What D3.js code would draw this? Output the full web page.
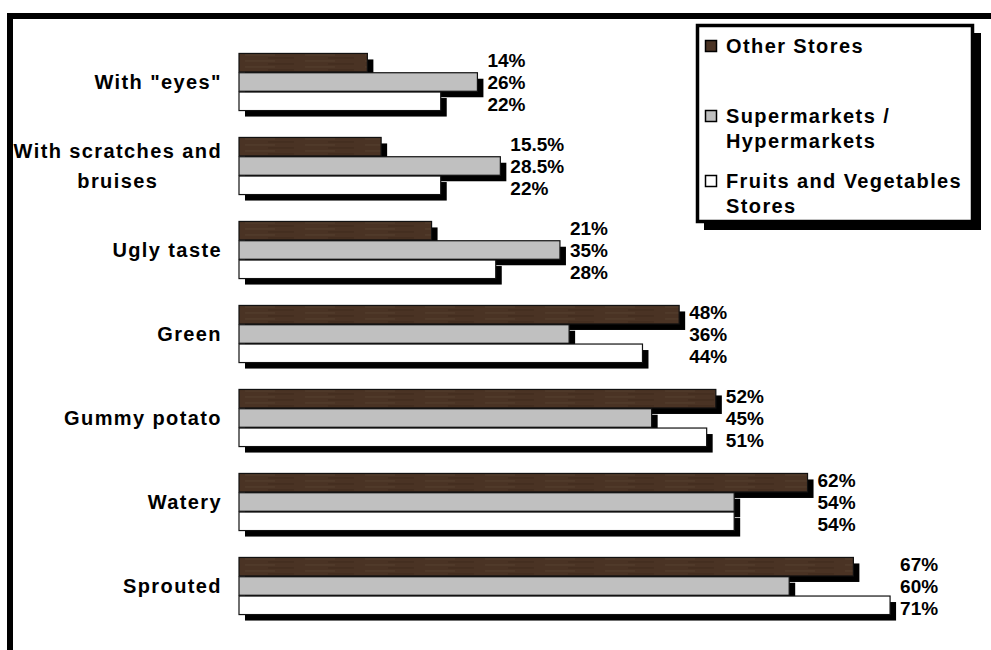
<!DOCTYPE html>
<html>
<head>
<meta charset="utf-8">
<script src="https://cdn.jsdelivr.net/npm/d3@7"></script>
<style>
  body { margin: 0; background: #fff; }
  text { font-family: "Liberation Sans", Arial, sans-serif; font-weight: bold; fill: #000; }
</style>
</head>
<body>
<div id="chart"></div>
<script>
// values
const categories = ['With "eyes"', "With scratches and\nbruises", "Ugly taste", "Green", "Gummy potato", "Watery", "Sprouted"];
const otherStores = [14, 15.5, 21, 48, 52, 62, 67];
const supermarkets = [26, 28.5, 35, 36, 45, 54, 60];
const fruitsVeg = [22, 22, 28, 44, 51, 54, 71];
const seriesNames = [["Other Stores"], ["Supermarkets /", "Hypermarkets"], ["Fruits and Vegetables", "Stores"]];
const seriesColors = ["url(#wood)", "#c0c0c0", "#ffffff"];
const legendColors = ["#4a3324", "#c0c0c0", "#ffffff"];

const width = 991, height = 650;
const seriesValues = [otherStores, supermarkets, fruitsVeg];

const svg = d3.select("#chart").append("svg")
    .attr("width", width)
    .attr("height", height);

// brownish streaky fill like the original's texture
const defs = svg.append("defs");
const pat = defs.append("pattern").attr("id", "wood")
    .attr("patternUnits", "userSpaceOnUse").attr("width", 60).attr("height", 6);
pat.append("rect").attr("width", 60).attr("height", 6).attr("fill", "#4a3324");
pat.append("rect").attr("x", 5).attr("y", 1).attr("width", 30).attr("height", 1).attr("fill", "#55402f");
pat.append("rect").attr("x", 28).attr("y", 4).attr("width", 26).attr("height", 1).attr("fill", "#3f2a1c");

// thick frame, only top and left edges are in view
svg.append("rect")
    .attr("x", 10).attr("y", 16)
    .attr("width", 1100).attr("height", 800)
    .attr("fill", "none")
    .attr("stroke", "#000")
    .attr("stroke-width", 6);

const x = d3.scaleLinear().domain([0, 100]).range([239, 1156]);
const y = d3.scaleBand().domain(categories).range([40, 628]).paddingInner(0.32).paddingOuter(0.16);
const ySub = d3.scaleBand().domain(d3.range(3)).range([0, y.bandwidth()]).paddingInner(0.04);

const shadow = 6;

const groups = svg.append("g").selectAll("g.cat")
    .data(categories)
    .join("g")
    .attr("class", "cat")
    .attr("transform", d => `translate(0,${y(d)})`);

groups.each(function (cat, ci) {
    const g = d3.select(this);
    seriesValues.forEach((vals, si) => {
        const v = vals[ci];
        g.append("rect")
            .attr("x", x(0) + shadow)
            .attr("y", ySub(si) + shadow)
            .attr("width", x(v) - x(0))
            .attr("height", ySub.bandwidth())
            .attr("fill", "#000");
        g.append("rect")
            .attr("x", x(0))
            .attr("y", ySub(si))
            .attr("width", x(v) - x(0))
            .attr("height", ySub.bandwidth())
            .attr("fill", seriesColors[si])
            .attr("stroke", "#111")
            .attr("stroke-width", 1.2);
    });
    // value labels just past the longest bar, spread a little apart
    const groupMax = d3.max(seriesValues, vals => vals[ci]);
    const mid = ySub(1) + ySub.bandwidth() / 2;
    seriesValues.forEach((vals, si) => {
        const cy = ySub(si) + ySub.bandwidth() / 2;
        g.append("text")
            .attr("x", x(groupMax) + 10)
            .attr("y", mid + (cy - mid) * 1.15)
            .attr("dy", "0.36em")
            .attr("font-size", 19)
            .text(vals[ci] + "%");
    });
});

// category labels: block right-aligned, lines centred in the block
const labelRight = 222, lineH = 30;
categories.forEach(cat => {
    const lines = cat.split("\n");
    const cy = y(cat) + y.bandwidth() / 2;
    const t = svg.append("g");
    const texts = lines.map((ln, i) => t.append("text")
        .attr("y", cy + (i - (lines.length - 1) / 2) * lineH)
        .attr("dy", "0.36em")
        .attr("font-size", 20)
        .attr("letter-spacing", "1.4px")
        .attr("text-anchor", "middle")
        .text(ln));
    const blockW = d3.max(texts, s => s.node().getComputedTextLength());
    texts.forEach(s => s.attr("x", labelRight - blockW / 2));
});

// legend
const legend = svg.append("g");
legend.append("rect").attr("x", 704).attr("y", 33).attr("width", 277).attr("height", 197).attr("fill", "#000");
legend.append("rect").attr("x", 697.5).attr("y", 25.5).attr("width", 275).attr("height", 196)
    .attr("fill", "#fff").attr("stroke", "#000").attr("stroke-width", 3.5);

const legendRows = [53, 123, 188];
seriesNames.forEach((lines, i) => {
    const base = legendRows[i];
    legend.append("rect")
        .attr("x", 705.5).attr("y", base - 12.5)
        .attr("width", 11).attr("height", 11)
        .attr("fill", legendColors[i])
        .attr("stroke", "#000").attr("stroke-width", 1.5);
    lines.forEach((ln, j) => {
        legend.append("text")
            .attr("x", 726)
            .attr("y", base + j * 25)
            .attr("font-size", 20)
            .attr("letter-spacing", "1.4px")
            .text(ln);
    });
});
</script>
</body>
</html>
